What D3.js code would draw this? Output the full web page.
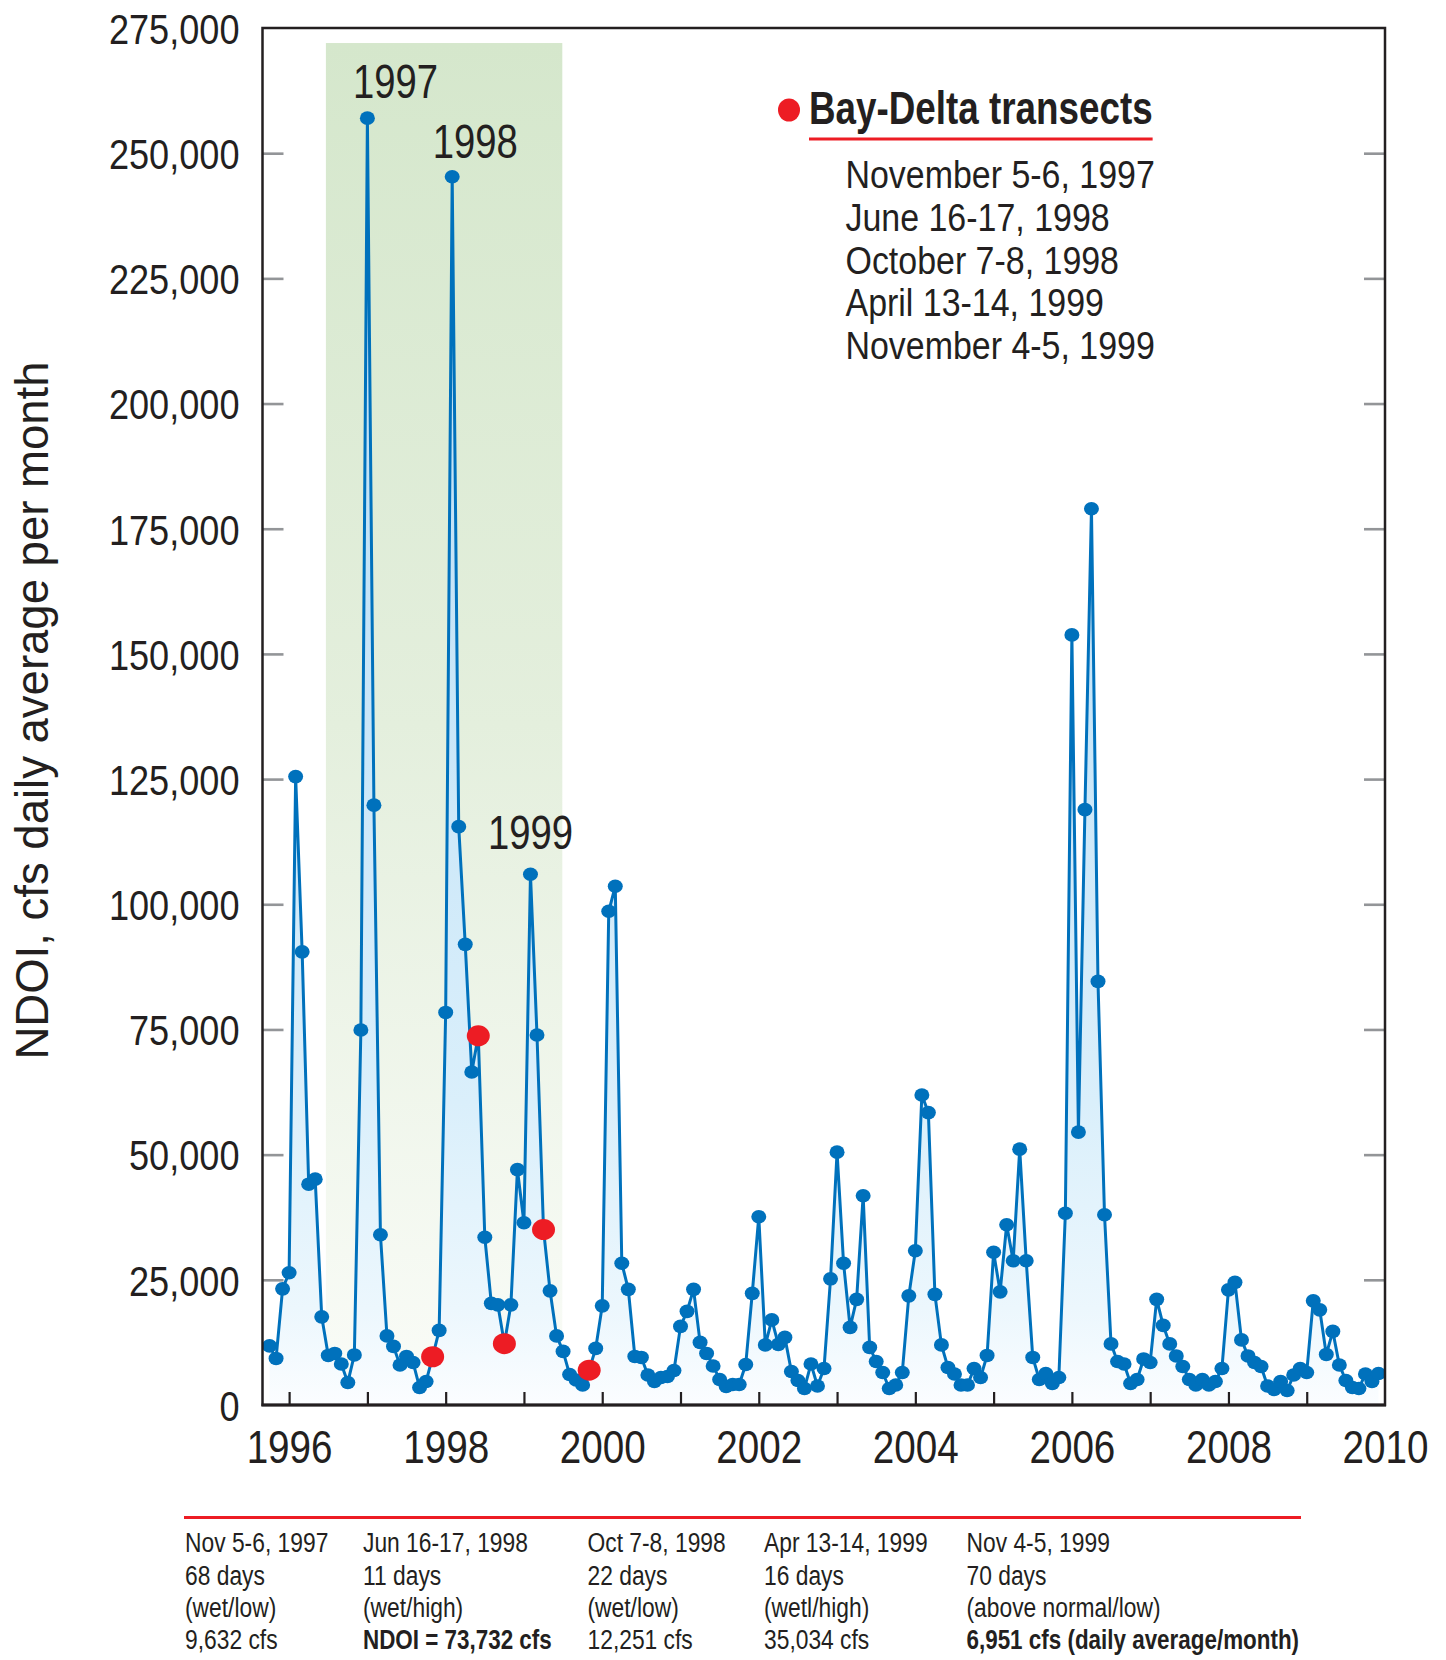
<!DOCTYPE html>
<html><head><meta charset="utf-8">
<script src="https://cdn.jsdelivr.net/npm/d3@7"></script>
<style>
html,body{margin:0;padding:0;background:#fff;}
svg{display:block;}
text{font-family:"Liberation Sans", Arial, Helvetica, sans-serif; fill:#231f20;}
</style></head><body>
<svg id="chart" width="1446" height="1660"></svg>
<script>
// ---- Monthly NDOI (cfs, daily average per month) ----
const ndoi1995 = [11800, 9300, 23200];               // Oct–Dec 1995
const ndoi1996 = [26400, 125500, 90500, 44100, 45100, 17600, 9900, 10300, 8200, 4500, 10000, 74900];
const ndoi1997 = [257000, 119800, 34000, 13800, 11700, 8000, 9700, 8500, 3500, 4700, 9632, 14900];
const ndoi1998 = [78400, 245300, 115500, 92000, 66500, 73732, 33500, 20300, 20000, 12251, 20000, 47000];
const ndoi1999 = [36400, 106000, 73900, 35034, 22800, 13800, 10700, 6100, 5000, 4000, 6951, 11300];
const ndoi2000 = [19800, 98600, 103600, 28300, 23100, 9700, 9500, 6000, 4700, 5500, 5700, 6900];
const ndoi2001 = [15700, 18700, 23100, 12500, 10300, 7800, 5100, 3700, 4100, 4100, 8100, 22300];
const ndoi2002 = [37600, 12000, 17000, 12100, 13500, 6700, 4900, 3300, 8200, 3800, 7300, 25200];
const ndoi2003 = [50500, 28300, 15500, 21100, 41800, 11500, 8700, 6500, 3300, 4000, 6500, 21800];
const ndoi2004 = [30800, 61900, 58400, 22100, 12000, 7500, 6200, 4000, 4000, 7300, 5500, 9900];
const ndoi2005 = [30500, 22600, 36000, 28800, 51100, 28800, 9500, 5100, 6300, 4300, 5500, 38300];
const ndoi2006 = [153800, 54500, 118900, 179000, 84600, 38000, 12200, 8700, 8200, 4300, 5100, 9200];
const ndoi2007 = [8500, 21100, 15900, 12200, 9800, 7700, 5100, 4000, 5100, 4000, 4700, 7300];
const ndoi2008 = [23000, 24500, 13000, 9800, 8500, 7700, 3800, 3100, 4700, 2900, 6000, 7300];
const ndoi2009 = [6500, 20800, 19000, 10100, 14700, 8000, 4900, 3500, 3300, 6200, 4700, 6300];

// ---- Bay-Delta transects ----
const transectLong  = ["November 5-6, 1997", "June 16-17, 1998", "October 7-8, 1998", "April 13-14, 1999", "November 4-5, 1999"];
const transectShort = ["Nov 5-6, 1997", "Jun 16-17, 1998", "Oct 7-8, 1998", "Apr 13-14, 1999", "Nov 4-5, 1999"];
const transectYear  = [1997, 1998, 1998, 1999, 1999];
const transectMonth = [10, 5, 9, 3, 10];          // 0 = January
const transectDays  = [68, 11, 22, 16, 70];
const transectClass = ["(wet/low)", "(wet/high)", "(wet/low)", "(wetl/high)", "(above normal/low)"];
const transectNdoi  = [9632, 73732, 12251, 35034, 6951];

// ---- Axis ticks & annotations ----
const yTickValues   = [0, 25000, 50000, 75000, 100000, 125000, 150000, 175000, 200000, 225000, 250000, 275000];
const xTickYears    = [1996, 1997, 1998, 1999, 2000, 2001, 2002, 2003, 2004, 2005, 2006, 2007, 2008, 2009];
const xLabelYears   = [1996, 1998, 2000, 2002, 2004, 2006, 2008, 2010];
const peakLabels    = ["1997", "1998", "1999"];
const peakYear      = [1997, 1998, 1999];
const peakMonth     = [0, 1, 1];
const wetBand       = [1996.47, 1999.49];   // shaded wet-year period
const wetBandTop    = 272000;
const yTitle        = "NDOI, cfs daily average per month";
const legendTitle   = "Bay-Delta transects";

// ---- build series ----
const yearBlocks = [[1995, 9, ndoi1995], [1996, 0, ndoi1996], [1997, 0, ndoi1997], [1998, 0, ndoi1998],
  [1999, 0, ndoi1999], [2000, 0, ndoi2000], [2001, 0, ndoi2001], [2002, 0, ndoi2002], [2003, 0, ndoi2003],
  [2004, 0, ndoi2004], [2005, 0, ndoi2005], [2006, 0, ndoi2006], [2007, 0, ndoi2007], [2008, 0, ndoi2008],
  [2009, 0, ndoi2009]];
const series = yearBlocks.flatMap(([yr, m0, vals]) => vals.map((v, i) => ({t: yr + (m0 + i) / 12, v})));
const transects = transectNdoi.map((v, i) => ({t: transectYear[i] + transectMonth[i] / 12, v}));

// ---- layout ----
const M = {left: 262.5, right: 1385, top: 28, bottom: 1405};
const x = d3.scaleLinear().domain([1995.66, 2010]).range([M.left, M.right]);
const y = d3.scaleLinear().domain([0, 275000]).range([M.bottom, M.top]);
const svg = d3.select("#chart");
const ink = "#231f20", blue = "#0071bc", red = "#ed1c24", tickGray = "#939598";

function condense(sel, f) {
  sel.each(function () {
    const w = this.getComputedTextLength();
    d3.select(this).attr("textLength", w * f).attr("lengthAdjust", "spacingAndGlyphs");
  });
}

const defs = svg.append("defs");
const gg = defs.append("linearGradient").attr("id", "gband").attr("gradientUnits", "userSpaceOnUse")
  .attr("x1", 0).attr("x2", 0).attr("y1", y(wetBandTop)).attr("y2", M.bottom);
[[0, "#d5e7cc"], [0.5, "#e4efdd"], [1, "#fafcf8"]].forEach(([o, c]) => gg.append("stop").attr("offset", o).attr("stop-color", c));
const bg = defs.append("linearGradient").attr("id", "garea").attr("gradientUnits", "userSpaceOnUse")
  .attr("x1", 0).attr("x2", 0).attr("y1", M.top).attr("y2", M.bottom);
[[0, "#b8dcf4"], [0.5, "#c9e6f8"], [0.78, "#daeffb"], [0.93, "#ecf7fd"], [1, "#fbfdff"]].forEach(([o, c]) => bg.append("stop").attr("offset", o).attr("stop-color", c));

// wet band
svg.append("rect")
  .attr("x", x(wetBand[0])).attr("width", x(wetBand[1]) - x(wetBand[0]))
  .attr("y", y(wetBandTop)).attr("height", M.bottom - y(wetBandTop))
  .attr("fill", "url(#gband)");

// area + line
svg.append("path").datum(series)
  .attr("d", d3.area().x(d => x(d.t)).y0(y(0)).y1(d => y(d.v)))
  .attr("fill", "url(#garea)");
svg.append("path").datum(series)
  .attr("d", d3.line().x(d => x(d.t)).y(d => y(d.v)))
  .attr("fill", "none").attr("stroke", blue).attr("stroke-width", 3).attr("stroke-linejoin", "round");
svg.append("g").selectAll("ellipse").data(series).join("ellipse")
  .attr("cx", d => x(d.t)).attr("cy", d => y(d.v)).attr("rx", 7.5).attr("ry", 6.8).attr("fill", blue);
svg.append("g").selectAll("ellipse").data(transects).join("ellipse")
  .attr("cx", d => x(d.t)).attr("cy", d => y(d.v)).attr("rx", 11.5).attr("ry", 10.5).attr("fill", red);

// axes
const gx = svg.append("g").attr("transform", `translate(0,${M.bottom})`)
  .call(d3.axisBottom(x).tickValues(xTickYears).tickSize(-13).tickSizeOuter(0).tickFormat(""));
gx.select(".domain").remove();
gx.selectAll(".tick line").attr("stroke", ink).attr("stroke-width", 2.2);

const gxl = svg.append("g").attr("transform", `translate(0,${M.bottom})`)
  .call(d3.axisBottom(x).tickValues(xLabelYears).tickSize(0).tickFormat(d3.format("d")));
gxl.select(".domain").remove();
gxl.selectAll(".tick text").attr("y", 58).attr("dy", 0).attr("font-size", 46)
  .attr("fill", ink).attr("font-family", null).call(condense, 0.84);

const gyl = svg.append("g").attr("transform", `translate(${M.left},0)`)
  .call(d3.axisLeft(y).tickValues(yTickValues).tickSize(-21).tickPadding(23).tickFormat(d3.format(",")));
gyl.select(".domain").remove();
gyl.selectAll(".tick line").attr("stroke", tickGray).attr("stroke-width", 2.6)
  .attr("display", d => (d === 0 || d === 275000) ? "none" : null);
gyl.selectAll(".tick text").attr("font-size", 42.5).attr("dy", "0.36em").attr("fill", ink)
  .attr("font-family", null).call(condense, 0.85);

const gyr = svg.append("g").attr("transform", `translate(${M.right},0)`)
  .call(d3.axisRight(y).tickValues(yTickValues).tickSize(-21).tickFormat(""));
gyr.select(".domain").remove();
gyr.selectAll(".tick line").attr("stroke", tickGray).attr("stroke-width", 2.6)
  .attr("display", d => (d === 0 || d === 275000) ? "none" : null);

// frame
svg.append("rect").attr("x", M.left).attr("y", M.top).attr("width", M.right - M.left).attr("height", M.bottom - M.top)
  .attr("fill", "none").attr("stroke", ink).attr("stroke-width", 2.5);
svg.append("line").attr("x1", M.left - 1).attr("x2", M.right + 1).attr("y1", M.bottom).attr("y2", M.bottom)
  .attr("stroke", ink).attr("stroke-width", 3.2);

// y title
svg.append("text").attr("transform", `translate(48,${(M.top + M.bottom) / 2 - 6}) rotate(-90)`)
  .attr("text-anchor", "middle").attr("font-size", 45.5).text(yTitle);

// peak labels
const peakOff = [[28, -20], [23, -19], [0, -25]];
peakLabels.forEach((lab, i) => {
  const t = peakYear[i] + peakMonth[i] / 12;
  const v = series.find(d => Math.abs(d.t - t) < 1e-6).v;
  svg.append("text").attr("x", x(t) + peakOff[i][0]).attr("y", y(v) + peakOff[i][1])
    .attr("text-anchor", "middle").attr("font-size", 49).text(lab).call(condense, 0.78);
});

// legend
svg.append("ellipse").attr("cx", 789).attr("cy", 110).attr("rx", 11).attr("ry", 11.5).attr("fill", red);
const lt = svg.append("text").attr("x", 809).attr("y", 124).attr("font-size", 46).attr("font-weight", "bold")
  .text(legendTitle).call(condense, 0.80);
const ltw = +lt.attr("textLength");
svg.append("line").attr("x1", 809).attr("x2", 809 + ltw).attr("y1", 139).attr("y2", 139)
  .attr("stroke", red).attr("stroke-width", 2.8);
svg.append("g").selectAll("text").data(transectLong).join("text")
  .attr("x", 845.5).attr("y", (d, i) => 188 + i * 42.8).attr("font-size", 39).text(d => d).call(condense, 0.87);

// bottom table
svg.append("line").attr("x1", 184).attr("x2", 1301).attr("y1", 1517.5).attr("y2", 1517.5)
  .attr("stroke", red).attr("stroke-width", 3);
const colX = [185, 363, 587.5, 764, 966.5];
const rowY = [1552, 1584.5, 1617, 1649];
const fmt = d3.format(",");
const boldCols = [1, 4];
transectShort.forEach((s, i) => {
  const lines = [s, `${transectDays[i]} days`, transectClass[i],
    i === 1 ? `NDOI = ${fmt(transectNdoi[i])} cfs` : i === 4 ? `${fmt(transectNdoi[i])} cfs (daily average/month)` : `${fmt(transectNdoi[i])} cfs`];
  lines.forEach((txt, r) => {
    const isBold = r === 3 && boldCols.includes(i);
    svg.append("text").attr("x", colX[i]).attr("y", rowY[r]).attr("font-size", 27)
      .attr("font-weight", isBold ? "bold" : null)
      .text(txt).call(condense, isBold ? 0.83 : 0.845);
  });
});
</script>
</body></html>
